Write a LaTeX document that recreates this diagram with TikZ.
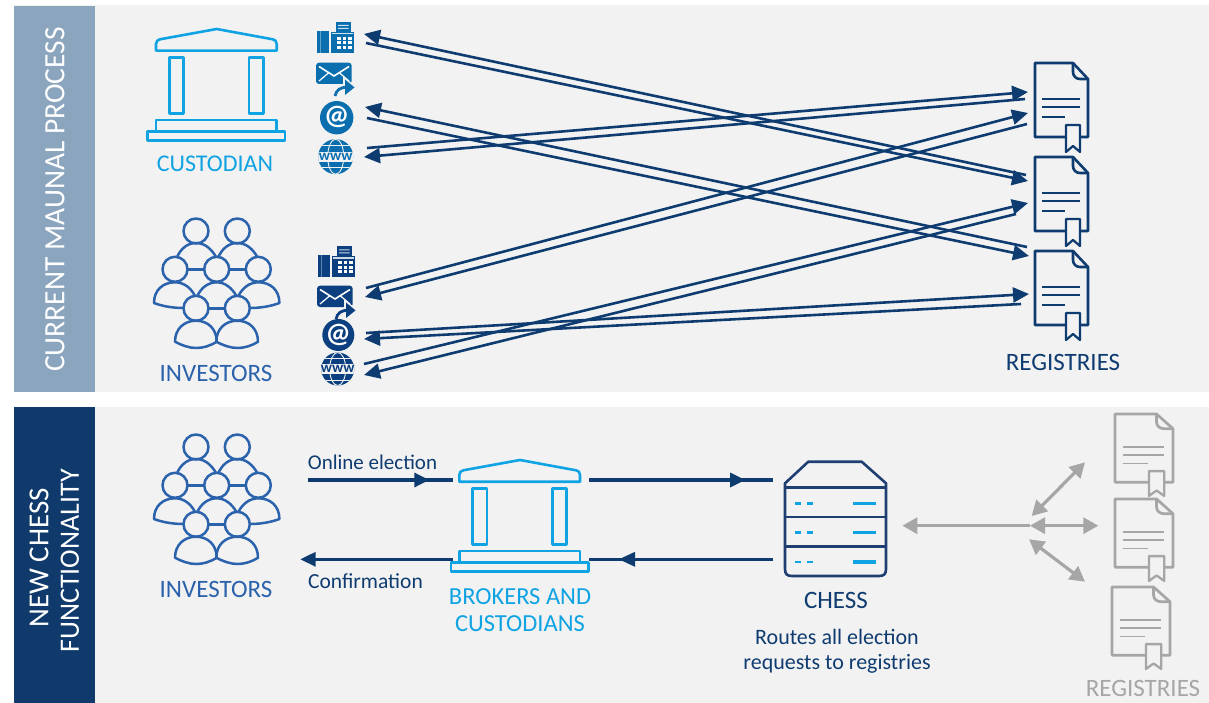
\documentclass[tikz,border=0pt]{standalone}
\usepackage{fontspec}
\setmainfont{Carlito}
\usetikzlibrary{arrows.meta}
\definecolor{panel}{HTML}{F2F2F2}
\definecolor{stripa}{HTML}{8BA5BF}
\definecolor{stripb}{HTML}{0F3A6B}
\definecolor{navy}{HTML}{0F3C70}
\definecolor{cyanb}{HTML}{0FA3E3}
\definecolor{peopleb}{HTML}{2B62AC}
\definecolor{faxa}{HTML}{0B6FAF}
\definecolor{faxb}{HTML}{0C3F80}
\definecolor{greyb}{HTML}{A6A6A6}
\definecolor{servb}{HTML}{1F3F73}
\tikzset{
  fs/.style={font=\fontsize{#1}{#1}\selectfont},
  lab/.style={inner sep=0pt,anchor=center,align=center},
  thinarrow/.style={navy,line width=2.6pt,-{Triangle[length=16pt,width=15pt]}},
  flowarrow/.style={navy,line width=3.6pt},
  flowhead/.style={navy,fill=navy,draw=none},
  greyarrow/.style={greyb,line width=3.2pt},
  pics/docicon/.style n args={3}{code={
    \draw[#1,line width=#2pt,line join=round,fill=panel]
      (0,2) -- (0,72) -- (0,74) -- (53,74) -- (53,16) -- (38,0) -- (2,0) -- (0,0) -- cycle;
    \draw[#1,line width=#2pt,line join=round]
      (38,0) -- (38,9) .. controls (38,13) and (41,16) .. (45,16) -- (53,16);
    \draw[#1,line width=#3pt] (7,36) -- (45,36);
    \draw[#1,line width=#3pt+0.5pt] (7,44) -- (45,44);
    \draw[#1,line width=#3pt] (7,54) -- (30,54);
    \draw[#1,line width=#2pt*0.85,line join=round,fill=panel]
      (31,62) -- (45,62) -- (45,89) -- (38,83) -- (31,89) -- cycle;
  }},
  pics/bankicon/.style={code={
    \begin{scope}[cyanb,line width=2.6pt,line join=round]
      \draw (156,50.7) -- (156,44) .. controls (156,41) and (158,39.8) .. (160,39.3) -- (216.7,29) -- (272.7,39.3) .. controls (275,39.8) and (276.7,41) .. (276.7,44) -- (276.7,50.7) -- cycle;
      \draw (169.3,57.7) rectangle (183.7,113.7);
      \draw (249,57.7) rectangle (263.3,113.7);
      \draw (156,131.7) -- (156,120) -- (276.7,120) -- (276.7,131.7);
      \draw (147.7,131.7) rectangle (285,140.7);
    \end{scope}
  }},
  pics/peopleicon/.style={code={
    \begin{scope}[peopleb,line width=2.5pt,line join=round]
      \foreach \c in {(196,231),(237.3,231),(175,269.3),(216.7,269.3),(258.3,269.3),(196,308.3),(237.3,308.3)}
        \draw \c circle[radius=12.5pt];
      \draw (187.5,269.3) -- (204.2,269.3) (229.2,269.3) -- (245.8,269.3) (208.5,308.3) -- (224.8,308.3);
      \foreach \d in {0,41.3}{
        \draw ([xshift=\d pt]176.7,257.7) .. controls ([xshift=\d pt]181,248) and ([xshift=\d pt]188,243) .. ([xshift=\d pt]196,243) .. controls ([xshift=\d pt]204,243) and ([xshift=\d pt]211,248) .. ([xshift=\d pt]216,257);
        \draw ([xshift=\d pt]175,341.7) .. controls ([xshift=\d pt]175,329) and ([xshift=\d pt]184,320.7) .. ([xshift=\d pt]196,320.7) .. controls ([xshift=\d pt]208,320.7) and ([xshift=\d pt]216.7,329) .. ([xshift=\d pt]216.7,341.7) .. controls ([xshift=\d pt]210,346) and ([xshift=\d pt]203,348) .. ([xshift=\d pt]196,348) .. controls ([xshift=\d pt]189,348) and ([xshift=\d pt]181,345) .. cycle;
      }
      \draw (195,296) .. controls (191,288) and (184,282.3) .. (175,282.3) .. controls (163,282.3) and (154,290) .. (154,303) .. controls (162,306) and (172,308) .. (183.5,308);
      \draw (197.3,296) .. controls (201,288) and (208,282.3) .. (216.7,282.3) .. controls (225,282.3) and (232,288) .. (236.4,296);
      \draw (238.4,296) .. controls (242.4,288) and (249.4,282.3) .. (258.4,282.3) .. controls (270.4,282.3) and (279.4,290) .. (279.4,303) .. controls (271.4,306) and (261.4,308) .. (250,308);
    \end{scope}
  }},
  pics/faxicon/.style={code={
    \fill[#1] (317.3,30.7) rectangle (329,52.7);
    \fill[white,opacity=.35] (320,30.7) rectangle (321,52.7);
    \fill[#1] (330.7,31.7) rectangle (354,52.7);
    \fill[#1] (335.7,21.7) rectangle (350.7,32.7);
    \fill[white,opacity=.8] (338,25) rectangle (348.5,26) (338,28) rectangle (348.5,29);
    \fill[white,opacity=.8] (332,33) rectangle (352.5,34.2);
    \foreach \xx in {337.3,342.6,347.9}\foreach \yy in {37,41.4,45.8}
      \fill[white] (\xx,\yy) rectangle +(3.6,3);
  }},
  pics/envicon/.style={code={
    \fill[#1,rounded corners=3pt] (316,62.7) rectangle (351.7,84);
    \draw[white,line width=1.6pt] (319,66.5) -- (334,76) -- (349,66.5);
    \draw[white,line width=1.2pt] (319,81) -- (329,72.5) (349,81) -- (339,72.5);
    \draw[panel,line width=6pt] (335,96) .. controls (336,90) and (341,87) .. (348,87.3);
    \fill[panel] (343,76) -- (357,87.5) -- (343,98) -- cycle;
    \draw[#1,line width=2.8pt] (335,96) .. controls (336,90) and (341,87) .. (347,87.3);
    \fill[#1] (345,79.5) -- (354.5,87.4) -- (345,95) -- cycle;
  }},
  pics/aticon/.style n args={2}{code={
    \fill[#1] (0,0) circle[radius=#2 pt];
    \node[inner sep=0pt,white,font=\fontsize{28}{28}\selectfont\bfseries] (atsign) at (0,-0.5) {@};
  }},
  pics/wwwicon/.style n args={2}{code={
    \begin{scope}
      \clip (0,0) circle[radius=#2 pt];
      \fill[#1] (-20,-20) rectangle (20,20);
      \draw[panel,line width=0.9pt] (0,0) ellipse[x radius=8pt,y radius=#2 pt];
      \draw[panel,line width=0.9pt] (-20,-11) -- (20,-11) (-20,11) -- (20,11);
      \fill[panel] (-20,-5) rectangle (20,5);
    \end{scope}
    \node[inner sep=0pt,text=#1,font=\fontsize{15}{15}\selectfont\bfseries] (wtext) at (0,0) {www};
  }},
  pics/servericon/.style={code={
    \begin{scope}[servb,line width=2.6pt,line join=round]
      \draw (785,487.7) -- (785,483.3) -- (808.3,461.7) -- (861.7,461.7) -- (886,483.3) -- (886,569) .. controls (886,574) and (884,576) .. (879,576) -- (792,576) .. controls (787,576) and (785,574) .. (785,569) -- cycle;
      \draw (785,487.7) -- (886,487.7) (785,517) -- (886,517) (785,546.3) -- (886,546.3);
    \end{scope}
    \foreach \yy in {503.3,532.7,562}{
      \draw[cyanb,line width=2.6pt] (795,\yy) -- (801,\yy) (806.7,\yy) -- (812.7,\yy);
      \draw[cyanb,line width=3.2pt] (853.3,\yy) -- (876,\yy);
    }
  }}
}
\begin{document}
\begin{tikzpicture}[x=1pt,y=-1pt]
\useasboundingbox (0,0) rectangle (1209,703);
\fill[white] (0,0) rectangle (1209,703);
% panels
\fill[panel] (14,5) rectangle (1209,392);
\fill[panel] (14,407) rectangle (1209,703);
\fill[stripa] (14,6) rectangle (95,392);
\fill[stripb] (14,407) rectangle (95,703);
\node[lab,white,fs=29.5,rotate=90] (current) at (55,199.5) {CURRENT MAUNAL PROCESS};
\node[lab,white,fs=29,rotate=90] (newchess) at (39,558) {NEW CHESS};
\node[lab,white,fs=28,rotate=90] (functionality) at (70,561) {FUNCTIONALITY};
% top icons
\pic {bankicon};
\pic {peopleicon};
\pic {faxicon=faxa};
\pic {envicon=faxa};
\pic at (336.7,117.7) {aticon={faxa}{16.7}};
\pic at (335.7,156.7) {wwwicon={faxa}{17.5}};
\pic at (1,224.3) {faxicon=faxb};
\pic at (1,223) {envicon=faxb};
\pic at (338.3,335) {aticon={faxb}{16}};
\pic at (337.7,369) {wwwicon={faxb}{16.5}};
\pic at (1035,63) {docicon={navy}{2.6}{2.3}};
\pic at (1035,157) {docicon={navy}{2.6}{2.3}};
\pic at (1035,251) {docicon={navy}{2.6}{2.3}};
\node[lab,cyanb,fs=24] (custodian) at (215,164) {CUSTODIAN};
\node[lab,peopleb,fs=25] (investorsa) at (216,373) {INVESTORS};
\node[lab,navy,fs=25] (registriesa) at (1063,362.5) {REGISTRIES};
% manual arrows
\coordinate (faxL1) at (364,34);   \coordinate (faxL2) at (366,43);
\coordinate (atL1) at (365,107);   \coordinate (atL2) at (367,118);
\coordinate (wwwL1) at (367,148);  \coordinate (wwwL2) at (364,157);
\coordinate (envR1) at (366,288);  \coordinate (envR2) at (365,297);
\coordinate (atR1) at (366,333);   \coordinate (atR2) at (364,339);
\coordinate (wwwR1) at (364,364);  \coordinate (wwwR2) at (364,375);
\coordinate (docA1) at (1028,92);  \coordinate (docA2) at (1025,99);
\coordinate (docA3) at (1028,113); \coordinate (docA4) at (1027,124);
\coordinate (docB1) at (1026,175); \coordinate (docB2) at (1028,181);
\coordinate (docB3) at (1028,203); \coordinate (docB4) at (1016,214);
\coordinate (docC1) at (1027,247); \coordinate (docC2) at (1029,256);
\coordinate (docC3) at (1029,294); \coordinate (docC4) at (1021,304);
\draw[thinarrow] (docB1) -- (faxL1);
\draw[thinarrow] (faxL2) -- (docB2);
\draw[thinarrow] (docC1) -- (atL1);
\draw[thinarrow] (atL2) -- (docC2);
\draw[thinarrow] (wwwL1) -- (docA1);
\draw[thinarrow] (docA2) -- (wwwL2);
\draw[thinarrow] (envR1) -- (docA3);
\draw[thinarrow] (docA4) -- (envR2);
\draw[thinarrow] (atR1) -- (docC3);
\draw[thinarrow] (docC4) -- (atR2);
\draw[thinarrow] (wwwR1) -- (docB3);
\draw[thinarrow] (docB4) -- (wwwR2);
% lower icons
\pic at (0,216) {peopleicon};
\pic at (303.3,431) {bankicon};
\pic {servericon};
\pic[xscale=1.094,yscale=0.921] at (1115,414) {docicon={greyb}{2.7}{1.5}};
\pic[xscale=1.094,yscale=0.921] at (1115,499) {docicon={greyb}{2.7}{1.5}};
\pic[xscale=1.094,yscale=0.921] at (1112,587) {docicon={greyb}{2.7}{1.5}};
\node[lab,peopleb,fs=25] (investorsb) at (216,589) {INVESTORS};
\node[lab,cyanb,fs=24.5] (brokers) at (520,610) {BROKERS AND\\[3pt]CUSTODIANS};
\node[lab,navy,fs=25] (chess) at (836,600) {CHESS};
\node[lab,navy,fs=22] (routes) at (837,651) {Routes all election\\[3pt]requests to registries};
\node[lab,navy,fs=21] (online) at (372.5,462) {Online election};
\node[lab,navy,fs=21.5] (confirm) at (365.5,581.5) {Confirmation};
\node[lab,greyb,fs=25] (registriesb) at (1143,688) {REGISTRIES};
% flow arrows
\coordinate (onA) at (308.3,480); \coordinate (onB) at (452.7,480);
\coordinate (coA) at (452.7,559.3); \coordinate (coB) at (315,559.3);
\coordinate (upA) at (589,480); \coordinate (upB) at (773,480);
\coordinate (dnA) at (773,559.3); \coordinate (dnB) at (589,559.3);
\draw[flowarrow] (onA) -- (onB);
\draw[flowarrow] (coA) -- (coB);
\draw[flowarrow] (upA) -- (upB);
\draw[flowarrow] (dnA) -- (dnB);
\fill[flowhead] (414.3,472.5) -- (429,480) -- (414.3,487.5) -- cycle;
\fill[flowhead] (315.7,551.8) -- (300.5,559.3) -- (315.7,566.8) -- cycle;
\fill[flowhead] (730,472.5) -- (745,480) -- (730,487.5) -- cycle;
\fill[flowhead] (635,551.8) -- (619,559.3) -- (635,566.8) -- cycle;
% grey arrows
\coordinate (gHub) at (1030,525.7);
\coordinate (gLeft) at (902.3,525.7);
\coordinate (gRight) at (1098.3,525.7);
\coordinate (gUpA) at (1031.7,516); \coordinate (gUpB) at (1085,462.3);
\coordinate (gLoA) at (1029,539.3); \coordinate (gLoB) at (1085,581.7);
\tikzset{gtip/.style={greyb,line width=3.2pt,{Triangle[length=15pt,width=16pt]}-{Triangle[length=15pt,width=16pt]}}}
\draw[greyarrow,{Triangle[length=15pt,width=16pt]}-] (gLeft) -- (gHub);
\draw[gtip] (gHub) -- (gRight);
\draw[gtip] (gUpA) -- (gUpB);
\draw[gtip] (gLoA) -- (gLoB);
\end{tikzpicture}
\end{document}
